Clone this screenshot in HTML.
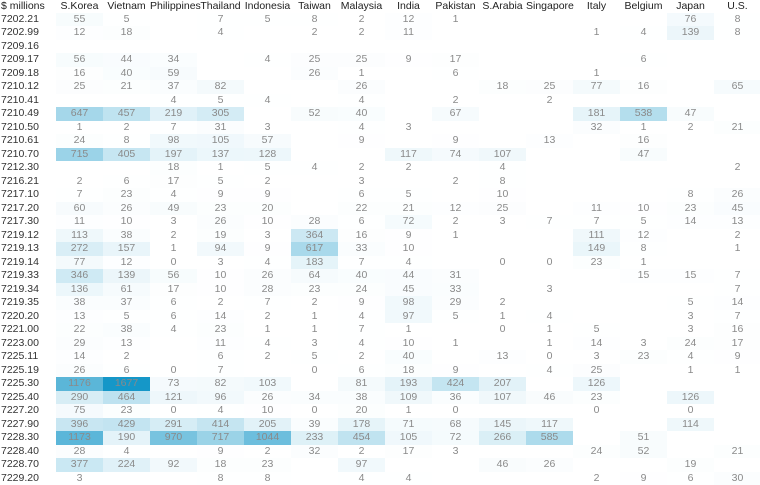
<!DOCTYPE html>
<html><head><meta charset="utf-8"><style>
body{margin:0;background:#fff;width:760px;height:484px;overflow:hidden;font-family:"Liberation Sans",sans-serif;}
#chart{position:relative;width:760px;height:484px;}
.cell{position:absolute;text-align:center;font-size:10.5px;color:#8a8a8a;line-height:13.5px;}
.rl{position:absolute;left:1px;font-size:10.5px;color:#333;line-height:13.5px;}
.hd{position:absolute;top:0;font-size:10.5px;color:#222;line-height:13px;text-align:center;}
</style></head><body>
<div id="chart">
<div class="hd" style="left:1px;text-align:left">$ millions</div>
</div>
<script>
const countries=["S.Korea","Vietnam","Philippines","Thailand","Indonesia","Taiwan","Malaysia","India","Pakistan","S.Arabia","Singapore","Italy","Belgium","Japan","U.S."];
const codes=["7202.21","7202.99","7209.16","7209.17","7209.18","7210.12","7210.41","7210.49","7210.50","7210.61","7210.70","7212.30","7216.21","7217.10","7217.20","7217.30","7219.12","7219.13","7219.14","7219.33","7219.34","7219.35","7220.20","7221.00","7223.00","7225.11","7225.19","7225.30","7225.40","7227.20","7227.90","7228.30","7228.40","7228.70","7229.20"];
const _=null;
const values=[
[55,5,_,7,5,8,2,12,1,_,_,_,_,76,8],
[12,18,_,4,_,2,2,11,_,_,_,1,4,139,8],
[_,_,_,_,_,_,_,_,_,_,_,_,_,_,_],
[56,44,34,_,4,25,25,9,17,_,_,_,6,_,_],
[16,40,59,_,_,26,1,_,6,_,_,1,_,_,_],
[25,21,37,82,_,_,26,_,_,18,25,77,16,_,65],
[_,_,4,5,4,_,4,_,2,_,2,_,_,_,_],
[647,457,219,305,_,52,40,_,67,_,_,181,538,47,_],
[1,2,7,31,3,_,4,3,_,_,_,32,1,2,21],
[24,8,98,105,57,_,9,_,9,_,13,_,16,_,_],
[715,405,197,137,128,_,_,117,74,107,_,_,47,_,_],
[_,_,18,1,5,4,2,2,_,4,_,_,_,_,2],
[2,6,17,5,2,_,3,_,2,8,_,_,_,_,_],
[7,23,4,9,9,_,6,5,_,10,_,_,_,8,26],
[60,26,49,23,20,_,22,21,12,25,_,11,10,23,45],
[11,10,3,26,10,28,6,72,2,3,7,7,5,14,13],
[113,38,2,19,3,364,16,9,1,_,_,111,12,_,2],
[272,157,1,94,9,617,33,10,_,_,_,149,8,_,1],
[77,12,0,3,4,183,7,4,_,0,0,23,1,_,_],
[346,139,56,10,26,64,40,44,31,_,_,_,15,15,7],
[136,61,17,10,28,23,24,45,33,_,3,_,_,_,7],
[38,37,6,2,7,2,9,98,29,2,_,_,_,5,14],
[13,5,6,14,2,1,4,97,5,1,4,_,_,3,7],
[22,38,4,23,1,1,7,1,_,0,1,5,_,3,16],
[29,13,_,11,4,3,4,10,1,_,1,14,3,24,17],
[14,2,_,6,2,5,2,40,_,13,0,3,23,4,9],
[26,6,0,7,_,0,6,18,9,_,4,25,_,1,1],
[1176,1677,73,82,103,_,81,193,424,207,_,126,_,_,_],
[290,464,121,96,26,34,38,109,36,107,46,23,_,126,_],
[75,23,0,4,10,0,20,1,0,_,_,0,_,0,_],
[396,429,291,414,205,39,178,71,68,145,117,_,_,114,_],
[1173,190,970,717,1044,233,454,105,72,266,585,_,51,_,_],
[28,4,_,9,2,32,2,17,3,_,_,24,52,_,21],
[377,224,92,18,23,_,97,_,_,46,26,_,_,19,_],
[3,_,_,8,8,_,4,4,_,_,_,2,9,6,30]
];
const chart=document.getElementById('chart');
const X0=56,CW=47,Y0=12.5,RH=13.5,VMAX=1677;
const colX=c=>X0+CW*c;
const rowY=r=>Y0+RH*r;
function color(v){const t=Math.min(1,v/VMAX);
const r=Math.round(255-(255-21)*t),g=Math.round(255-(255-151)*t),b=Math.round(255-(255-200)*t);
return `rgb(${r},${g},${b})`;}
countries.forEach((n,c)=>{
const d=document.createElement('div');d.className='hd';
d.style.left=colX(c)+'px';d.style.width=CW+'px';d.textContent=n;


chart.appendChild(d);});
codes.forEach((code,r)=>{
const l=document.createElement('div');l.className='rl';
l.style.top=rowY(r)+'px';l.textContent=code;


chart.appendChild(l);
values[r].forEach((v,c)=>{
if(v===null)return;
const d=document.createElement('div');d.className='cell';
d.style.left=colX(c)+'px';d.style.top=rowY(r)+'px';
d.style.width=CW+'px';d.style.height=RH+'px';
d.style.background=color(v);d.textContent=v;


chart.appendChild(d);});
});
</script>
</body></html>
